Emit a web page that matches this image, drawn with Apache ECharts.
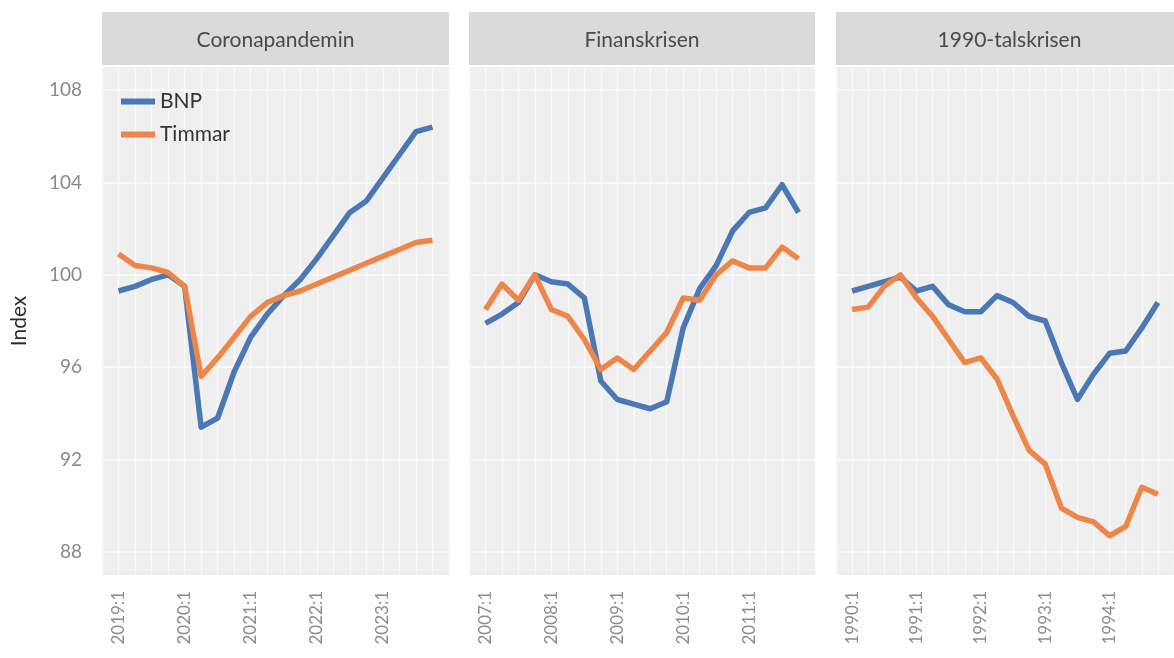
<!DOCTYPE html>
<html lang="sv">
<head>
<meta charset="UTF-8">
<title>BNP och arbetade timmar</title>
<style>
    html, body { margin: 0; padding: 0; background: #fff; }
    #main { width: 1174px; height: 658px; }
</style>
</head>
<body>
<div id="main"></div>
<script src="https://cdn.jsdelivr.net/npm/echarts@6/dist/echarts.min.js"></script>
<script type="text/javascript">
    // paneltitlar och tickar
    var panelTitles = ['Coronapandemin', 'Finanskrisen', '1990-talskrisen'];
    var yTicks = [88, 92, 96, 100, 104, 108];
    var coronaTicks = ['2019:1', '2020:1', '2021:1', '2022:1', '2023:1'];
    var finansTicks = ['2007:1', '2008:1', '2009:1', '2010:1', '2011:1'];
    var krisTicks = ['1990:1', '1991:1', '1992:1', '1993:1', '1994:1'];

    // kvartalsdata, index
    var coronaBnp = [99.3, 99.5, 99.8, 100.0, 99.5, 93.4, 93.8, 95.8, 97.3, 98.3,
        99.1, 99.8, 100.7, 101.7, 102.7, 103.2, 104.2, 105.2, 106.2, 106.4];
    var coronaTimmar = [100.9, 100.4, 100.3, 100.1, 99.5, 95.6, 96.4, 97.3, 98.2, 98.8,
        99.1, 99.3, 99.6, 99.9, 100.2, 100.5, 100.8, 101.1, 101.4, 101.5];
    var finansBnp = [97.9, 98.3, 98.8, 100.0, 99.7, 99.6, 99.0, 95.4, 94.6, 94.4,
        94.2, 94.5, 97.7, 99.4, 100.4, 101.9, 102.7, 102.9, 103.9, 102.7];
    var finansTimmar = [98.5, 99.6, 98.9, 100.0, 98.5, 98.2, 97.2, 95.9, 96.4, 95.9,
        96.7, 97.5, 99.0, 98.9, 100.0, 100.6, 100.3, 100.3, 101.2, 100.7];
    var krisBnp = [99.3, 99.5, 99.7, 99.9, 99.3, 99.5, 98.7, 98.4, 98.4, 99.1,
        98.8, 98.2, 98.0, 96.2, 94.6, 95.7, 96.6, 96.7, 97.7, 98.8];
    var krisTimmar = [98.5, 98.6, 99.5, 100.0, 99.0, 98.2, 97.2, 96.2, 96.4, 95.5,
        93.9, 92.4, 91.8, 89.9, 89.5, 89.3, 88.7, 89.1, 90.8, 90.5];

    var bnpColor = '#4a78b5';
    var timmarColor = '#ee864a';
    var fontFamily = 'Lato, "Open Sans", sans-serif';

    var panelTicks = [coronaTicks, finansTicks, krisTicks];
    var panelData = [[coronaBnp, coronaTimmar], [finansBnp, finansTimmar], [krisBnp, krisTimmar]];
    var panelLeft = [102, 469, 836];
    var panelWidth = [347, 346, 347];

    function toPairs(values) {
        var out = [];
        for (var i = 0; i < values.length; i++) {
            out.push([i, values[i]]);
        }
        return out;
    }

    // vita linjer bara vid 88, 92, ... (axeln har steg 1)
    var hLineColors = [];
    for (var v = 87; v <= 109; v++) {
        hLineColors.push(yTicks.indexOf(v) >= 0 ? '#fbfbfb' : 'rgba(255,255,255,0)');
    }

    var grids = [], xAxes = [], yAxes = [], series = [], graphics = [];
    for (var p = 0; p < 3; p++) {
        grids.push({
            left: panelLeft[p],
            top: 67,
            width: panelWidth[p],
            height: 508,
            show: true,
            backgroundColor: '#efefef',
            borderWidth: 0
        });
        (function (ticks) {
            xAxes.push({
                type: 'value',
                gridIndex: p,
                min: -1,
                max: 20,
                interval: 1,
                axisLine: { show: false },
                axisTick: { show: false },
                splitLine: { show: true, lineStyle: { color: '#fafafa', width: 1.4 } },
                axisLabel: {
                    rotate: 90,
                    margin: 16,
                    fontSize: 17,
                    color: '#8c8c8c',
                    fontFamily: fontFamily,
                    formatter: function (val) {
                        if (val >= 0 && val % 4 === 0 && val / 4 < ticks.length) {
                            return ticks[val / 4];
                        }
                        return '';
                    }
                }
            });
        })(panelTicks[p]);
        yAxes.push({
            type: 'value',
            gridIndex: p,
            min: 87,
            max: 109,
            interval: 1,
            name: p === 0 ? 'Index' : '',
            nameLocation: 'middle',
            nameGap: 72,
            nameTextStyle: { fontSize: 21, color: '#2b2b2b', fontFamily: fontFamily },
            axisLine: { show: false },
            axisTick: { show: false },
            splitLine: { show: true, lineStyle: { color: hLineColors, width: 1.6 } },
            axisLabel: {
                show: p === 0,
                margin: 20,
                fontSize: 19,
                color: '#8a8a8a',
                fontFamily: fontFamily,
                formatter: function (val) {
                    return yTicks.indexOf(val) >= 0 ? String(val) : '';
                }
            }
        });
        series.push({
            name: 'BNP',
            type: 'line',
            xAxisIndex: p,
            yAxisIndex: p,
            data: toPairs(panelData[p][0]),
            showSymbol: false,
            color: bnpColor,
            lineStyle: { width: 5.5, color: bnpColor, join: 'round' }
        });
        series.push({
            name: 'Timmar',
            type: 'line',
            xAxisIndex: p,
            yAxisIndex: p,
            data: toPairs(panelData[p][1]),
            showSymbol: false,
            color: timmarColor,
            lineStyle: { width: 5.5, color: timmarColor, join: 'round' }
        });
        // grå rubrikremsa ovanför varje panel
        graphics.push({
            type: 'rect',
            left: panelLeft[p],
            top: 12,
            shape: { width: panelWidth[p], height: 53 },
            style: { fill: '#dadada' },
            silent: true
        });
        graphics.push({
            type: 'text',
            x: panelLeft[p] + panelWidth[p] / 2,
            y: 40,
            style: {
                text: panelTitles[p],
                align: 'center',
                verticalAlign: 'middle',
                fill: '#4a4a4a',
                fontSize: 21,
                fontFamily: fontFamily
            },
            silent: true
        });
    }

    var myChart = echarts.init(document.getElementById('main'));
    var option = {
        backgroundColor: '#ffffff',
        animation: false,
        grid: grids,
        xAxis: xAxes,
        yAxis: yAxes,
        legend: {
            data: ['BNP', 'Timmar'],
            orient: 'vertical',
            left: 116,
            top: 86,
            icon: 'rect',
            itemWidth: 34,
            itemHeight: 6,
            itemGap: 12,
            textStyle: { fontSize: 21, color: '#333', fontFamily: fontFamily }
        },
        graphic: graphics,
        series: series
    };
    myChart.setOption(option);
</script>
</body>
</html>
